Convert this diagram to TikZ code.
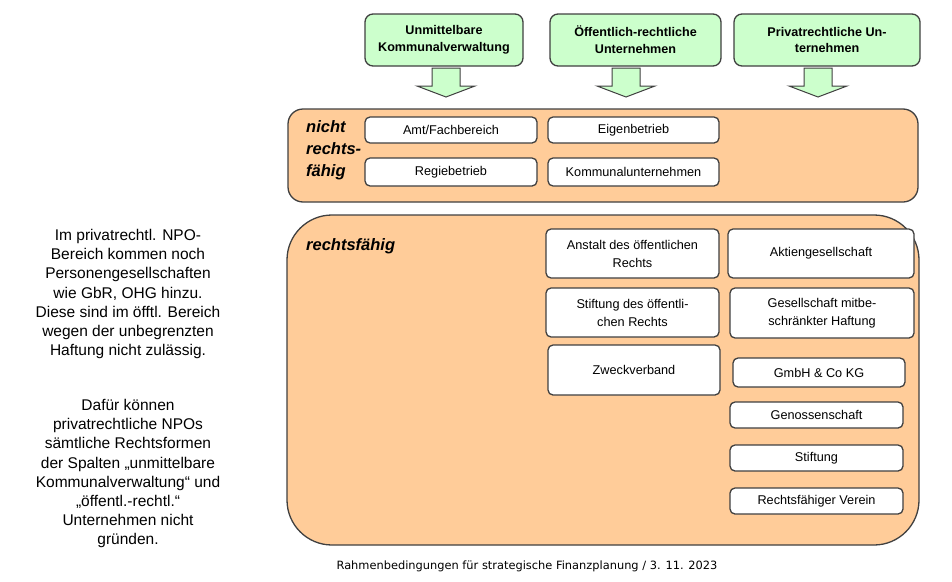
\documentclass[tikz,border=0pt]{standalone}
\usepackage{fontspec}
\setmainfont{Liberation Sans}
\newfontfamily\footfont{DejaVu Sans}
\begin{document}
\begin{tikzpicture}[x=1pt,y=-1pt,
  lc/.style={draw=black!75, line width=1.3pt},
  gbox/.style={lc, fill=green!20, rounded corners=8pt, inner sep=0pt, align=center,
     font=\fontsize{12.6}{16.8}\selectfont\bfseries},
  obox/.style={lc, fill=orange!40, inner sep=0pt},
  wbox/.style={lc, fill=white, rounded corners=5pt, inner sep=0pt, align=center,
     font=\fontsize{12.7}{18}\selectfont},
  lab/.style={inner sep=0pt, anchor=west, align=left, font=\fontsize{16.5}{22}\selectfont\bfseries\itshape},
  side/.style={inner sep=0pt, anchor=north, align=center, font=\fontsize{15.5}{19.2}\selectfont},
  barrow/.style={draw=black!75, line width=1pt, fill=green!20}
]
\useasboundingbox (0,0) rectangle (952,581);
\definecolor{orange!40}{HTML}{FDCA98}
\definecolor{green!20}{HTML}{CCFFCC}

% top boxes
\node[gbox, minimum width=158, minimum height=52] (g1) at (444,40) {Unmittelbare\\Kommunalverwaltung};
\node[gbox, minimum width=171, minimum height=52] (g2) at (635.5,40) {Öffentlich-rechtliche\\Unternehmen};
\node[gbox, minimum width=186, minimum height=52] (g3) at (827,40) {Privatrechtliche Un-\\ternehmen};

% block arrows
\foreach \cx in {446,626,818}{
  \draw[barrow] (\cx-14,68) -- (\cx+14,68) -- (\cx+14,86) -- (\cx+29,86) -- (\cx,97)
     -- (\cx-29,86) -- (\cx-14,86) -- cycle;
}

% orange panels
\node[obox, rounded corners=15pt, minimum width=630, minimum height=93] (o1) at (603,155.5) {};
\node[obox, rounded corners=45pt, minimum width=632, minimum height=330] (o2) at (603,380) {};

\node[lab] (l1) at (306,150) {nicht\\rechts-\\fähig};
\node[lab] (l2) at (306,246) {rechtsfähig};

% white boxes, panel 1
\node[wbox, minimum width=172, minimum height=26] (amt) at (451,130) {Amt/Fachbereich};
\node[wbox, minimum width=171, minimum height=26] (eig) at (633.5,130) {Eigenbetrieb};
\node[wbox, minimum width=172, minimum height=28] (reg) at (451,172) {Regiebetrieb};
\node[wbox, minimum width=171, minimum height=28] (kom) at (633.5,172) {Kommunalunternehmen};

% white boxes, panel 2
\node[wbox, minimum width=173, minimum height=49] (ans) at (632.5,253.5) {Anstalt des öffentlichen\\Rechts};
\node[wbox, minimum width=186, minimum height=49] (akt) at (821,253.5) {Aktiengesellschaft};
\node[wbox, minimum width=173, minimum height=49] (sti1) at (632.5,312.5) {Stiftung des öffentli-\\chen Rechts};
\node[wbox, minimum width=184, minimum height=50] (ges) at (822,313) {Gesellschaft mitbe-\\schränkter Haftung};
\node[wbox, minimum width=172, minimum height=50] (zwe) at (634,370) {Zweckverband};
\node[wbox, minimum width=172, minimum height=29] (gmb) at (819,372.5) {GmbH \& Co KG};
\node[wbox, minimum width=173, minimum height=26] (gen) at (816.5,415) {Genossenschaft};
\node[wbox, minimum width=173, minimum height=26] (sti2) at (816.5,458) {Stiftung};
\node[wbox, minimum width=173, minimum height=26] (ver) at (816.5,501) {Rechtsfähiger Verein};

% side text
\node[side] (s1) at (128,229) {Im privatrechtl. NPO-\\Bereich kommen noch\\Personengesellschaften\\wie GbR, OHG hinzu.\\Diese sind im öfftl. Bereich\\wegen der unbegrenzten\\Haftung nicht zulässig.};
\node[side] (s2) at (128,399) {Dafür können\\privatrechtliche NPOs\\sämtliche Rechtsformen\\der Spalten „unmittelbare\\Kommunalverwaltung“ und\\„öffentl.-rechtl.“\\Unternehmen nicht\\gründen.};

% footer
\node[inner sep=0pt, font=\footfont\fontsize{11.4}{14}\selectfont] (foot) at (527,566) {Rahmenbedingungen für strategische Finanzplanung / 3. 11. 2023};
\end{tikzpicture}
\end{document}
